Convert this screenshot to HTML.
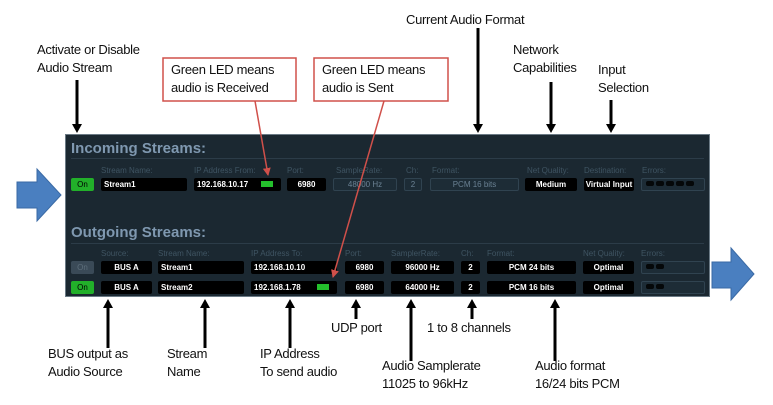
<!DOCTYPE html>
<html><head><meta charset="utf-8"><style>
body{margin:0;width:773px;height:405px;background:#fff;position:relative;overflow:hidden;font-family:"Liberation Sans",sans-serif}
.a{position:absolute}
.t{position:absolute;font-size:13px;line-height:18px;color:#111;letter-spacing:-0.3px}
#p{position:absolute;left:65px;top:134px;width:645px;height:163px;background:#1b2831;border:1px solid #6b7a85;box-sizing:border-box}
.h{position:absolute;color:#7f98b0;font-weight:bold;font-size:15px}
.ln{position:absolute;height:1px;background:#2c3c48;left:5px;right:5px}
.l{position:absolute;color:#3f5462;font-size:8px}
.b{position:absolute;background:#000;border-radius:2px;color:#fff;font-size:8px;font-weight:bold;line-height:13px;height:13px;text-align:center;box-sizing:border-box}
.d{background:#1d2c36;border:1px solid #304350;color:#6a8193;font-weight:normal;line-height:11px}
.on{background:#22b02a;color:#000;font-weight:normal}
.off{background:#3a4a57;color:#5d6e7b;font-weight:normal}
.led{position:absolute;width:12px;height:6px;background:#24c02c;top:3px;right:8px}
.dot{display:inline-block;width:8px;height:5px;background:#000;border-radius:2px;margin:0 1px}
.er{background:#1d2c36;border:1px solid #304350;text-align:left;padding-left:3px;line-height:9px}
.er .dot{background:#050809}
</style></head><body>
<svg class="a" style="left:0;top:0" width="773" height="405">
<defs><marker id="k" markerWidth="6" markerHeight="6" refX="5" refY="3" orient="auto" markerUnits="userSpaceOnUse"><path d="M0,0L6,3L0,6z" fill="#000"/></marker>
<marker id="r" markerWidth="8" markerHeight="8" refX="7" refY="4" orient="auto" markerUnits="userSpaceOnUse"><path d="M0,0L8,4L0,8z" fill="#d0504a"/></marker></defs>
<path d="M17,182H37V169L61,195L37,221V208H17z" fill="#4a7fc0" stroke="#3a6aa5"/>
<path d="M712,262H731V248L754,274L731,300V288H712z" fill="#4a7fc0" stroke="#3a6aa5"/>
<g stroke="#000" stroke-width="3" fill="none">
<line x1="77" y1="80" x2="77" y2="126"/><line x1="478" y1="28" x2="478" y2="126"/>
<line x1="551" y1="82" x2="551" y2="126"/><line x1="611" y1="100" x2="611" y2="126"/>
<line x1="108" y1="348" x2="108" y2="306"/><line x1="205" y1="348" x2="205" y2="306"/>
<line x1="290" y1="348" x2="290" y2="306"/><line x1="356" y1="319" x2="356" y2="306"/>
<line x1="411" y1="361" x2="411" y2="306"/><line x1="472" y1="319" x2="472" y2="306"/>
<line x1="555" y1="361" x2="555" y2="306"/>
</g>
<g fill="#000">
<path d="M72,124h10l-5,9z"/><path d="M473,124h10l-5,9z"/><path d="M546,124h10l-5,9z"/><path d="M606,124h10l-5,9z"/>
<path d="M103,308h10l-5,-9z"/><path d="M200,308h10l-5,-9z"/><path d="M285,308h10l-5,-9z"/><path d="M351,308h10l-5,-9z"/>
<path d="M406,308h10l-5,-9z"/><path d="M467,308h10l-5,-9z"/><path d="M550,308h10l-5,-9z"/>
</g>
<rect x="163" y="58" width="133" height="43" fill="#fff" stroke="#d0504a" stroke-width="1.5"/>
<rect x="314" y="58" width="134" height="43" fill="#fff" stroke="#d0504a" stroke-width="1.5"/>
</svg>
<div class="t" style="left:37px;top:41px">Activate or Disable<br>Audio Stream</div>
<div class="t" style="left:171px;top:61px">Green LED means<br>audio is Received</div>
<div class="t" style="left:322px;top:61px">Green LED means<br>audio is Sent</div>
<div class="t" style="left:406px;top:11px">Current Audio Format</div>
<div class="t" style="left:513px;top:41px">Network<br>Capabilities</div>
<div class="t" style="left:598px;top:61px">Input<br>Selection</div>
<div class="t" style="left:48px;top:345px">BUS output as<br>Audio Source</div>
<div class="t" style="left:167px;top:345px">Stream<br>Name</div>
<div class="t" style="left:260px;top:345px">IP Address<br>To send audio</div>
<div class="t" style="left:331px;top:319px">UDP port</div>
<div class="t" style="left:427px;top:319px">1 to 8 channels</div>
<div class="t" style="left:382px;top:357px">Audio Samplerate<br>11025 to 96kHz</div>
<div class="t" style="left:535px;top:357px">Audio format<br>16/24 bits PCM</div>
<div id="p">
<div class="h" style="left:5px;top:5px">Incoming Streams:</div><div class="ln" style="top:23px"></div>
<div class="l" style="left:35px;top:31px">Stream Name:</div><div class="l" style="left:128px;top:31px">IP Address From:</div>
<div class="l" style="left:221px;top:31px">Port:</div><div class="l" style="left:270px;top:31px">SampleRate:</div>
<div class="l" style="left:340px;top:31px">Ch:</div><div class="l" style="left:366px;top:31px">Format:</div>
<div class="l" style="left:461px;top:31px">Net Quality:</div><div class="l" style="left:518px;top:31px">Destination:</div><div class="l" style="left:576px;top:31px">Errors:</div>
<div class="b on" style="left:5px;top:43px;width:23px">On</div>
<div class="b" style="left:35px;top:43px;width:86px;text-align:left;padding-left:3px">Stream1</div>
<div class="b" style="left:128px;top:43px;width:87px;text-align:left;padding-left:3px">192.168.10.17<div class="led"></div></div>
<div class="b" style="left:221px;top:43px;width:39px">6980</div>
<div class="b d" style="left:267px;top:43px;width:64px">48000 Hz</div>
<div class="b d" style="left:338px;top:43px;width:18px">2</div>
<div class="b d" style="left:364px;top:43px;width:89px">PCM 16 bits</div>
<div class="b" style="left:459px;top:43px;width:52px">Medium</div>
<div class="b" style="left:518px;top:43px;width:50px">Virtual Input</div>
<div class="b er" style="left:575px;top:43px;width:64px"><span class="dot"></span><span class="dot"></span><span class="dot"></span><span class="dot"></span><span class="dot"></span></div>
<div class="h" style="left:5px;top:89px">Outgoing Streams:</div><div class="ln" style="top:108px"></div>
<div class="l" style="left:35px;top:114px">Source:</div><div class="l" style="left:92px;top:114px">Stream Name:</div>
<div class="l" style="left:185px;top:114px">IP Address To:</div><div class="l" style="left:279px;top:114px">Port:</div>
<div class="l" style="left:325px;top:114px">SamplerRate:</div><div class="l" style="left:395px;top:114px">Ch:</div>
<div class="l" style="left:421px;top:114px">Format:</div><div class="l" style="left:517px;top:114px">Net Quality:</div><div class="l" style="left:575px;top:114px">Errors:</div>
<div class="b off" style="left:5px;top:126px;width:23px">On</div>
<div class="b" style="left:35px;top:126px;width:51px">BUS A</div>
<div class="b" style="left:92px;top:126px;width:86px;text-align:left;padding-left:3px">Stream1</div>
<div class="b" style="left:185px;top:126px;width:86px;text-align:left;padding-left:3px">192.168.10.10</div>
<div class="b" style="left:279px;top:126px;width:39px">6980</div>
<div class="b" style="left:325px;top:126px;width:63px">96000 Hz</div>
<div class="b" style="left:395px;top:126px;width:19px">2</div>
<div class="b" style="left:421px;top:126px;width:89px">PCM 24 bits</div>
<div class="b" style="left:517px;top:126px;width:51px">Optimal</div>
<div class="b er" style="left:575px;top:126px;width:64px"><span class="dot"></span><span class="dot"></span></div>
<div class="b on" style="left:5px;top:146px;width:23px">On</div>
<div class="b" style="left:35px;top:146px;width:51px">BUS A</div>
<div class="b" style="left:92px;top:146px;width:86px;text-align:left;padding-left:3px">Stream2</div>
<div class="b" style="left:185px;top:146px;width:86px;text-align:left;padding-left:3px">192.168.1.78<div class="led"></div></div>
<div class="b" style="left:279px;top:146px;width:39px">6980</div>
<div class="b" style="left:325px;top:146px;width:63px">64000 Hz</div>
<div class="b" style="left:395px;top:146px;width:19px">2</div>
<div class="b" style="left:421px;top:146px;width:89px">PCM 16 bits</div>
<div class="b" style="left:517px;top:146px;width:51px">Optimal</div>
<div class="b er" style="left:575px;top:146px;width:64px"><span class="dot"></span><span class="dot"></span></div>
</div>
<svg class="a" style="left:0;top:0" width="773" height="405">
<line x1="255" y1="101" x2="268" y2="175" stroke="#d0504a" stroke-width="1.5" marker-end="url(#r)"/>
<line x1="384" y1="101" x2="333" y2="277" stroke="#d0504a" stroke-width="1.5" marker-end="url(#r)"/>
</svg>
</body></html>
